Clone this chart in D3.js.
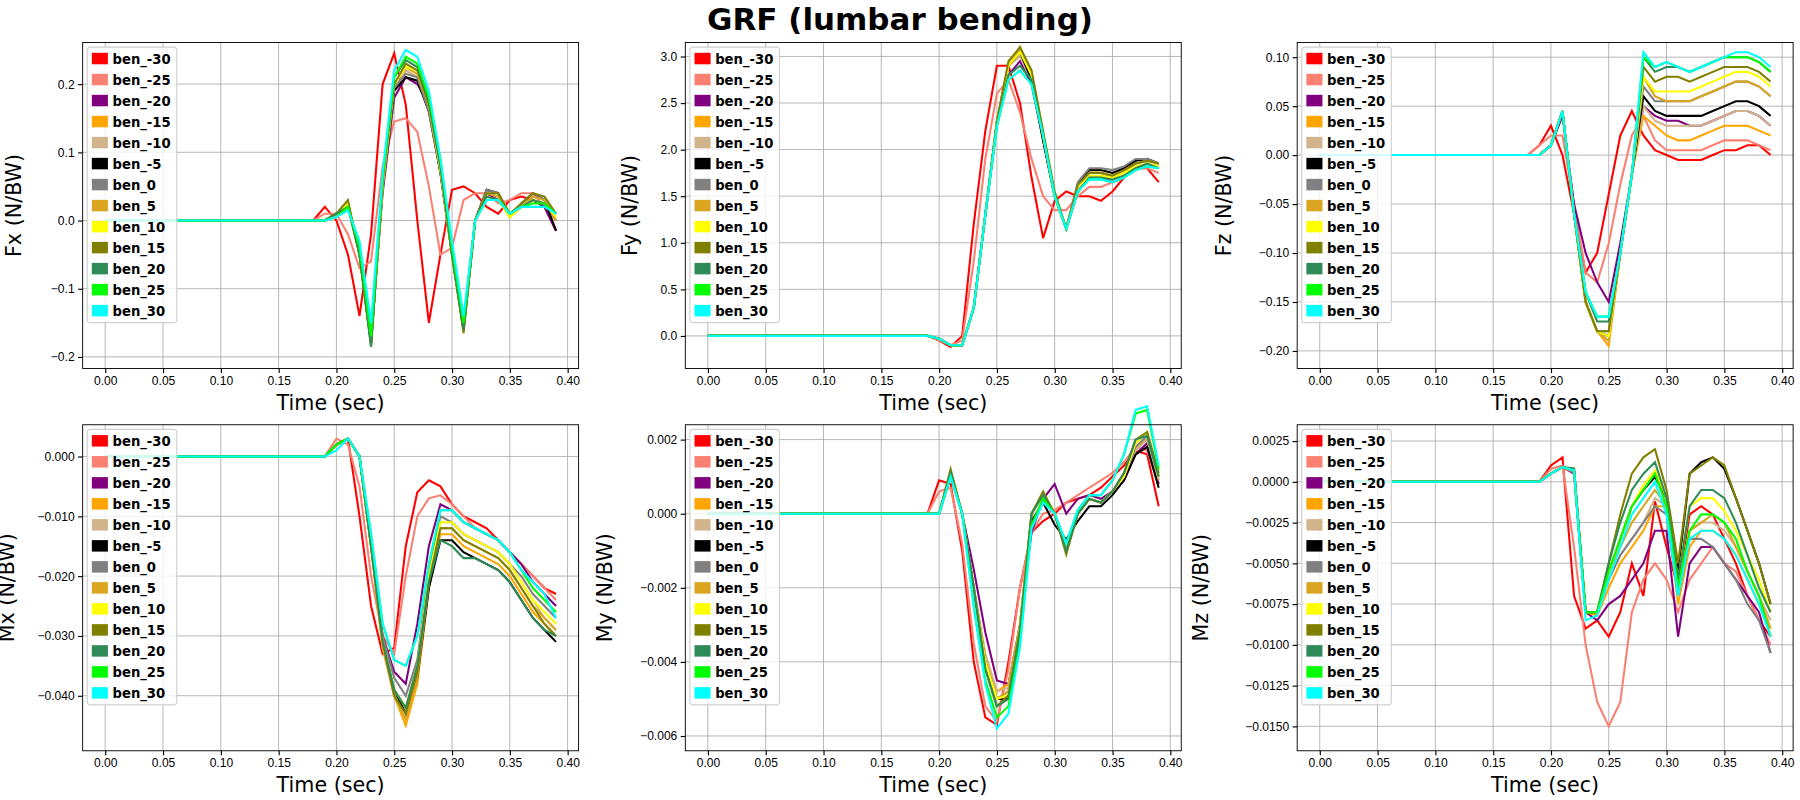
<!DOCTYPE html>
<html><head><meta charset="utf-8">
<script src="https://cdn.jsdelivr.net/npm/d3@7"></script>
<style>body{margin:0;background:#fff}svg{font-family:"DejaVu Sans",sans-serif}</style>
</head><body><svg id="c" width="1800" height="800"></svg>
<script>
const labels=["ben_-30","ben_-25","ben_-20","ben_-15","ben_-10","ben_-5","ben_0","ben_5","ben_10","ben_15","ben_20","ben_25","ben_30"];
const colors=["red","salmon","purple","orange","tan","black","gray","goldenrod","yellow","olive","seagreen","lime","cyan"];
const tDetail=[0.18,0.19,0.20,0.21,0.22,0.23,0.24,0.25,0.26,0.27,0.28,0.29,0.30,0.31,0.32,0.33,0.34,0.35,0.36,0.37,0.38,0.39];
const fx=[
[0,.02,0,-.05,-.14,-.02,.20,.245,.17,0,-.15,-.05,.045,.05,.04,.02,.01,.03,.035,.03,.02,-.015],
[0,.01,.01,-.02,-.07,-.06,.08,.145,.15,.13,.05,-.05,-.04,.03,.04,.04,.025,.03,.04,.04,.02,0],
[0,0,.01,.02,-.04,-.17,.04,.18,.21,.20,.17,.08,-.04,-.15,0,.04,.03,.01,.02,.03,.02,-.015],
[0,0,.01,.02,-.05,-.18,.05,.19,.22,.21,.16,.07,-.04,-.16,0,.045,.04,.01,.02,.035,.03,0],
[0,0,.01,.02,-.05,-.18,.05,.19,.22,.21,.16,.07,-.05,-.16,0,.04,.035,.005,.02,.03,.025,0],
[0,0,.01,.025,-.05,-.18,.05,.19,.21,.205,.16,.07,-.05,-.16,0,.045,.04,.005,.025,.04,.03,-.015],
[0,0,.01,.025,-.05,-.18,.05,.195,.215,.21,.16,.07,-.05,-.16,0,.045,.04,.005,.025,.04,.03,0],
[0,0,.01,.025,-.05,-.18,.05,.2,.225,.215,.17,.075,-.05,-.16,0,.04,.035,.005,.02,.035,.03,0],
[0,0,.01,.025,-.05,-.18,.055,.2,.225,.22,.17,.075,-.05,-.16,0,.035,.03,.005,.02,.03,.025,.005],
[0,0,.01,.03,-.05,-.185,.06,.2,.23,.22,.17,.08,-.05,-.165,0,.04,.04,.01,.025,.04,.035,.01],
[0,0,.01,.02,-.05,-.185,.06,.21,.235,.225,.175,.08,-.05,-.16,0,.035,.03,.01,.02,.03,.025,.01],
[0,0,.005,.02,-.04,-.17,.06,.21,.24,.23,.18,.09,-.04,-.15,0,.03,.03,.01,.02,.025,.025,.01],
[0,0,.005,.015,-.03,-.15,.07,.22,.25,.24,.19,.09,-.03,-.14,0,.03,.03,.01,.02,.02,.02,.01]];
const fy=[
[0,0,-.05,-.12,0,1.2,2.2,2.9,2.9,2.5,1.7,1.05,1.45,1.55,1.5,1.5,1.45,1.55,1.7,1.8,1.8,1.65],
[0,0,-.05,-.1,-.05,.8,1.9,2.6,2.75,2.4,1.9,1.5,1.35,1.35,1.5,1.6,1.6,1.65,1.7,1.8,1.8,1.75],
[0,0,-.03,-.1,-.1,.3,1.3,2.3,2.8,2.95,2.7,2.1,1.5,1.15,1.55,1.7,1.7,1.65,1.7,1.8,1.85,1.8],
[0,0,-.03,-.1,-.1,.3,1.3,2.3,2.9,3.05,2.75,2.1,1.5,1.15,1.6,1.75,1.75,1.7,1.75,1.85,1.88,1.85],
[0,0,-.03,-.1,-.1,.3,1.3,2.3,2.9,3.0,2.75,2.1,1.5,1.15,1.6,1.75,1.75,1.72,1.78,1.85,1.88,1.85],
[0,0,-.03,-.1,-.1,.3,1.3,2.3,2.9,3.05,2.75,2.1,1.5,1.15,1.62,1.78,1.78,1.75,1.8,1.88,1.9,1.85],
[0,0,-.03,-.1,-.1,.3,1.3,2.3,2.92,3.08,2.8,2.15,1.52,1.15,1.65,1.8,1.8,1.78,1.82,1.9,1.9,1.85],
[0,0,-.03,-.1,-.1,.3,1.3,2.3,2.9,3.1,2.8,2.15,1.5,1.15,1.6,1.75,1.75,1.72,1.78,1.85,1.88,1.85],
[0,0,-.03,-.1,-.1,.3,1.3,2.3,2.9,3.05,2.8,2.15,1.5,1.15,1.6,1.72,1.72,1.7,1.75,1.82,1.85,1.82],
[0,0,-.03,-.1,-.1,.3,1.3,2.3,2.95,3.1,2.85,2.2,1.55,1.15,1.62,1.75,1.75,1.72,1.78,1.85,1.88,1.85],
[0,0,-.03,-.1,-.1,.3,1.3,2.25,2.8,2.9,2.75,2.15,1.5,1.15,1.55,1.7,1.7,1.68,1.72,1.8,1.85,1.8],
[0,0,-.03,-.1,-.1,.3,1.3,2.25,2.75,2.85,2.7,2.15,1.5,1.15,1.55,1.68,1.68,1.65,1.7,1.78,1.82,1.8],
[0,0,-.03,-.1,-.1,.3,1.3,2.25,2.75,2.85,2.7,2.15,1.5,1.15,1.55,1.68,1.68,1.65,1.7,1.78,1.82,1.8]];
const fz=[
[0,.01,.03,0,-.06,-.12,-.10,-.04,.02,.045,.02,.005,0,-.005,-.005,-.005,0,.005,.005,.01,.01,0],
[0,.01,.02,.02,-.05,-.12,-.13,-.09,-.03,.02,.04,.015,.005,.005,.005,.005,.01,.015,.015,.015,.01,.005],
[0,0,.01,.04,-.05,-.10,-.13,-.15,-.09,-.02,.05,.04,.035,.035,.03,.03,.035,.04,.045,.045,.04,.03],
[0,0,.01,.045,-.06,-.15,-.18,-.195,-.10,-.02,.04,.03,.02,.015,.015,.02,.025,.03,.03,.03,.025,.02],
[0,0,.01,.045,-.06,-.15,-.18,-.19,-.10,-.02,.05,.035,.03,.03,.03,.03,.035,.04,.045,.045,.04,.03],
[0,0,.01,.045,-.06,-.15,-.18,-.185,-.10,-.02,.06,.045,.04,.04,.04,.04,.045,.05,.055,.055,.05,.04],
[0,0,.01,.045,-.06,-.15,-.18,-.18,-.10,-.02,.07,.055,.055,.055,.055,.06,.065,.07,.075,.075,.07,.06],
[0,0,.01,.045,-.06,-.15,-.18,-.19,-.10,-.02,.08,.06,.055,.055,.055,.06,.065,.07,.075,.075,.07,.06],
[0,0,.01,.045,-.06,-.15,-.18,-.185,-.10,-.02,.08,.065,.065,.065,.065,.07,.075,.08,.085,.085,.08,.07],
[0,0,.01,.045,-.06,-.15,-.18,-.18,-.10,-.02,.09,.075,.08,.08,.075,.08,.085,.09,.09,.09,.085,.075],
[0,0,.01,.045,-.06,-.14,-.17,-.17,-.10,-.02,.10,.085,.09,.09,.085,.09,.095,.1,.1,.1,.095,.085],
[0,0,.01,.045,-.06,-.14,-.165,-.165,-.10,-.02,.10,.09,.095,.09,.085,.09,.095,.1,.1,.1,.095,.085],
[0,0,.01,.045,-.06,-.14,-.165,-.165,-.10,-.02,.105,.09,.095,.09,.085,.09,.095,.1,.105,.105,.1,.09]];
const mx=[
[0,0,.002,.003,-.01,-.025,-.033,-.032,-.015,-.006,-.004,-.005,-.008,-.01,-.011,-.012,-.014,-.016,-.018,-.02,-.022,-.023],
[0,0,.003,.002,-.005,-.02,-.03,-.033,-.02,-.01,-.007,-.0065,-.008,-.01,-.012,-.013,-.014,-.016,-.018,-.02,-.022,-.024],
[0,0,.002,.003,0,-.015,-.03,-.036,-.038,-.028,-.015,-.008,-.009,-.011,-.012,-.013,-.014,-.016,-.018,-.021,-.023,-.025],
[0,0,.002,.003,0,-.015,-.032,-.04,-.045,-.038,-.022,-.013,-.013,-.015,-.016,-.017,-.018,-.02,-.023,-.026,-.028,-.03],
[0,0,.002,.003,0,-.015,-.031,-.039,-.042,-.036,-.02,-.011,-.011,-.013,-.014,-.015,-.016,-.018,-.021,-.024,-.027,-.029],
[0,0,.002,.003,0,-.015,-.031,-.039,-.043,-.037,-.022,-.014,-.014,-.016,-.017,-.018,-.019,-.021,-.024,-.027,-.029,-.031],
[0,0,.002,.003,0,-.015,-.03,-.037,-.04,-.034,-.019,-.01,-.011,-.013,-.014,-.015,-.016,-.018,-.02,-.023,-.025,-.027],
[0,0,.002,.003,0,-.015,-.032,-.04,-.044,-.037,-.021,-.012,-.012,-.014,-.015,-.016,-.017,-.019,-.022,-.025,-.027,-.029],
[0,0,.002,.003,0,-.015,-.031,-.039,-.042,-.035,-.02,-.011,-.011,-.013,-.014,-.015,-.016,-.018,-.021,-.024,-.026,-.028],
[0,0,.002,.003,0,-.015,-.031,-.04,-.043,-.036,-.021,-.012,-.012,-.014,-.015,-.016,-.017,-.019,-.022,-.025,-.028,-.03],
[0,0,.002,.003,0,-.015,-.031,-.039,-.042,-.035,-.021,-.014,-.015,-.017,-.017,-.018,-.019,-.021,-.024,-.027,-.029,-.03],
[0,0,.002,.003,0,-.013,-.028,-.034,-.035,-.03,-.018,-.009,-.009,-.011,-.012,-.013,-.014,-.016,-.019,-.022,-.024,-.026],
[0,0,.001,.003,0,-.013,-.028,-.034,-.035,-.03,-.018,-.009,-.009,-.011,-.012,-.013,-.014,-.016,-.019,-.021,-.023,-.027]];
const my=[
[0,0,.0009,.0008,-.001,-.004,-.0055,-.0057,-.004,-.002,-.0005,-.0002,0,.0003,.0004,.0005,.0007,.001,.0013,.0017,.0016,.0002],
[0,0,.0006,.0007,-.0008,-.0035,-.0052,-.0056,-.0042,-.002,-.0005,0,.0001,.0003,.0005,.0007,.0009,.0011,.0014,.0018,.0017,.0008],
[0,0,0,.001,0,-.0015,-.0032,-.0045,-.0046,-.003,-.0005,.0004,.0008,0,.0004,.0005,.0004,.0006,.0009,.0016,.0019,.0008],
[0,0,0,.0011,0,-.002,-.0038,-.0048,-.0046,-.003,0,.0005,0,-.0009,0,.0004,.0003,.0006,.001,.0018,.002,.0009],
[0,0,0,.0011,0,-.002,-.0038,-.0048,-.0047,-.003,0,.0005,0,-.0009,0,.0004,.0003,.0006,.001,.0017,.002,.0009],
[0,0,0,.0011,0,-.002,-.004,-.005,-.005,-.0032,-.0002,.0003,-.0003,-.0007,-.0002,.0002,.0002,.0005,.0009,.0016,.0018,.0007],
[0,0,0,.0011,0,-.002,-.004,-.005,-.0048,-.003,0,.0005,0,-.001,0,.0004,.0003,.0006,.001,.0018,.0021,.001],
[0,0,0,.0011,0,-.002,-.004,-.005,-.0048,-.003,0,.0005,0,-.001,0,.0004,.0003,.0006,.001,.0019,.0022,.001],
[0,0,0,.0011,0,-.002,-.004,-.005,-.0049,-.0031,0,.0005,0,-.001,0,.0004,.0003,.0006,.001,.0019,.0022,.001],
[0,0,0,.0012,0,-.002,-.0042,-.0052,-.0049,-.0031,0,.0006,0,-.0011,0,.0004,.0003,.0006,.0011,.002,.0022,.0011],
[0,0,0,.0011,0,-.002,-.0042,-.0052,-.005,-.0032,0,.0005,0,-.001,0,.0004,.0003,.0006,.0011,.002,.0021,.001],
[0,0,0,.001,0,-.0025,-.0045,-.0055,-.0052,-.0035,-.0003,.0004,0,-.0008,.0001,.0005,.0005,.0009,.0016,.0027,.0028,.0012],
[0,0,0,.001,0,-.0025,-.0046,-.0058,-.0054,-.0036,-.0004,.0003,0,-.0008,.0001,.0005,.0005,.0009,.0016,.0028,.0029,.0013]];
const mz=[
[0,0,.001,.0015,-.007,-.009,-.0085,-.0095,-.008,-.005,-.007,-.0012,-.004,-.0065,-.002,-.0015,-.002,-.0035,-.005,-.007,-.0085,-.0095],
[0,0,.0008,.001,-.004,-.01,-.0135,-.015,-.0135,-.008,-.006,-.005,-.006,-.008,-.006,-.005,-.004,-.005,-.0055,-.007,-.0085,-.01],
[0,0,.0005,.0009,.0005,-.008,-.0085,-.0075,-.007,-.006,-.005,-.003,-.003,-.0095,-.005,-.004,-.004,-.005,-.006,-.007,-.008,-.0105],
[0,0,.0005,.0009,.0006,-.008,-.0082,-.0065,-.005,-.004,-.003,-.0015,-.0015,-.0075,-.004,-.003,-.003,-.0035,-.0045,-.006,-.0075,-.009],
[0,0,.0005,.0009,.0006,-.008,-.008,-.006,-.0045,-.0035,-.0025,-.001,-.0015,-.007,-.003,-.0025,-.0025,-.003,-.004,-.0055,-.007,-.0085],
[0,0,.0005,.0009,.0007,-.008,-.008,-.0055,-.0035,-.0015,-.0005,.0003,-.001,-.0055,.0005,.0012,.0015,.0008,-.001,-.003,-.005,-.0075],
[0,0,.0005,.0009,.0006,-.008,-.008,-.006,-.0045,-.0035,-.0025,-.0015,-.002,-.007,-.0035,-.0035,-.004,-.005,-.006,-.0075,-.0085,-.0105],
[0,0,.0005,.0009,.0007,-.008,-.008,-.0055,-.004,-.0025,-.0015,-.0005,-.0015,-.0065,-.003,-.0025,-.002,-.0025,-.004,-.0055,-.007,-.009],
[0,0,.0005,.0009,.0007,-.008,-.008,-.0055,-.0035,-.0015,-.0002,.0007,-.001,-.006,-.0015,-.001,-.001,-.0018,-.003,-.0045,-.006,-.008],
[0,0,.0005,.0009,.0008,-.008,-.008,-.005,-.002,.0005,.0015,.002,-.0005,-.005,.0005,.001,.0015,.001,-.001,-.003,-.005,-.0075],
[0,0,.0005,.0009,.0008,-.008,-.008,-.005,-.0025,-.0005,.0005,.0012,-.001,-.006,-.0015,-.0005,-.0005,-.001,-.0025,-.0045,-.0065,-.008],
[0,0,.0005,.0009,.0007,-.008,-.008,-.0055,-.0035,-.0015,-.0005,.0005,-.0015,-.0065,-.003,-.002,-.002,-.0025,-.0035,-.0055,-.007,-.0095],
[0,0,.0005,.0009,.0007,-.0085,-.0082,-.006,-.004,-.002,-.001,0,-.002,-.007,-.0035,-.003,-.003,-.0035,-.0045,-.006,-.0075,-.0095]];
const tZero=[0,.01,.02,.03,.04,.05,.06,.07,.08,.09,.10,.11,.12,.13,.14,.15,.16,.17];
const xTicks=[0,.05,.1,.15,.2,.25,.3,.35,.4];
const panels=[
 {name:"Fx (N/BW)",data:fx,dom:[-.217,.261],ticks:[-.2,-.1,0,.1,.2],fmt:".1f",x:72,y:37,lab:54},
 {name:"Fy (N/BW)",data:fy,dom:[-.35,3.15],ticks:[0,.5,1,1.5,2,2.5,3],fmt:".1f",x:597,y:37,lab:42},
 {name:"Fz (N/BW)",data:fz,dom:[-.218,.115],ticks:[-.2,-.15,-.1,-.05,0,.05,.1],fmt:".2f",x:1130,y:37,lab:58},
 {name:"Mx (N/BW)",data:mx,dom:[-.0492,.0053],ticks:[-.04,-.03,-.02,-.01,0],fmt:".3f",x:72,y:370,lab:60},
 {name:"My (N/BW)",data:my,dom:[-.0064,.0024],ticks:[-.006,-.004,-.002,0,.002],fmt:".3f",x:597,y:370,lab:64},
 {name:"Mz (N/BW)",data:mz,dom:[-.0165,.0035],ticks:[-.015,-.0125,-.01,-.0075,-.005,-.0025,0,.0025],fmt:".4f",x:1130,y:370,lab:78}];
const W=432,H=284,K=1800/1568;
const svg=d3.select("#c").append("g").attr("transform",`scale(${K})`);
svg.append("text").attr("x",784).attr("y",26).attr("text-anchor","middle").attr("font-size",27).attr("font-weight","bold").text("GRF (lumbar bending)");
panels.forEach(p=>{
 const g=svg.append("g").attr("transform",`translate(${p.x},${p.y})`);
 const xs=d3.scaleLinear().domain([-0.0195,0.4095]).range([0,W]);
 const ys=d3.scaleLinear().domain(p.dom).range([H,0]);
 g.append("g").selectAll("line").data(xTicks).join("line").attr("x1",d=>xs(d)).attr("x2",d=>xs(d)).attr("y1",0).attr("y2",H).attr("stroke","#b0b0b0").attr("stroke-width",0.8);
 g.append("g").selectAll("line").data(p.ticks).join("line").attr("y1",d=>ys(d)).attr("y2",d=>ys(d)).attr("x1",0).attr("x2",W).attr("stroke","#b0b0b0").attr("stroke-width",0.8);
 const line=d3.line().x(d=>xs(d[0])).y(d=>ys(d[1]));
 const ts=tZero.concat(tDetail);
 p.data.forEach((s,i)=>{
  const pts=ts.map((t,k)=>[t,k<tZero.length?0:s[k-tZero.length]]);
  g.append("path").datum(pts).attr("d",line).attr("fill","none").attr("stroke",colors[i]).attr("stroke-width",1.8);
 });
 g.append("g").attr("transform",`translate(0,${H})`).call(d3.axisBottom(xs).tickValues(xTicks).tickFormat(d3.format(".2f")).tickSizeOuter(0).tickSize(4)).attr("font-size",10.5);
 g.append("g").call(d3.axisLeft(ys).tickValues(p.ticks).tickFormat(d3.format(p.fmt)).tickSizeOuter(0).tickSize(4)).attr("font-size",10.5);
 g.append("rect").attr("width",W).attr("height",H).attr("fill","none").attr("stroke","black").attr("stroke-width",0.8);
 g.selectAll(".domain").remove();
 g.append("text").attr("x",W/2).attr("y",H+36).attr("text-anchor","middle").attr("font-size",18).text("Time (sec)");
 g.append("text").attr("transform",`translate(${-p.lab},${H/2}) rotate(-90)`).attr("text-anchor","middle").attr("font-size",18).text(p.name);
 const lg=g.append("g").attr("transform","translate(4,4)");
 lg.append("rect").attr("width",78).attr("height",240).attr("fill","white").attr("fill-opacity",0.8).attr("stroke","#d0d0d0").attr("rx",3);
 labels.forEach((l,i)=>{
  lg.append("rect").attr("x",4).attr("y",5+i*18.3).attr("width",14).attr("height",10).attr("fill",colors[i]);
  lg.append("text").attr("x",22).attr("y",14.5+i*18.3).attr("font-size",11.5).attr("font-weight","bold").text(l);
 });
});
</script></body></html>
